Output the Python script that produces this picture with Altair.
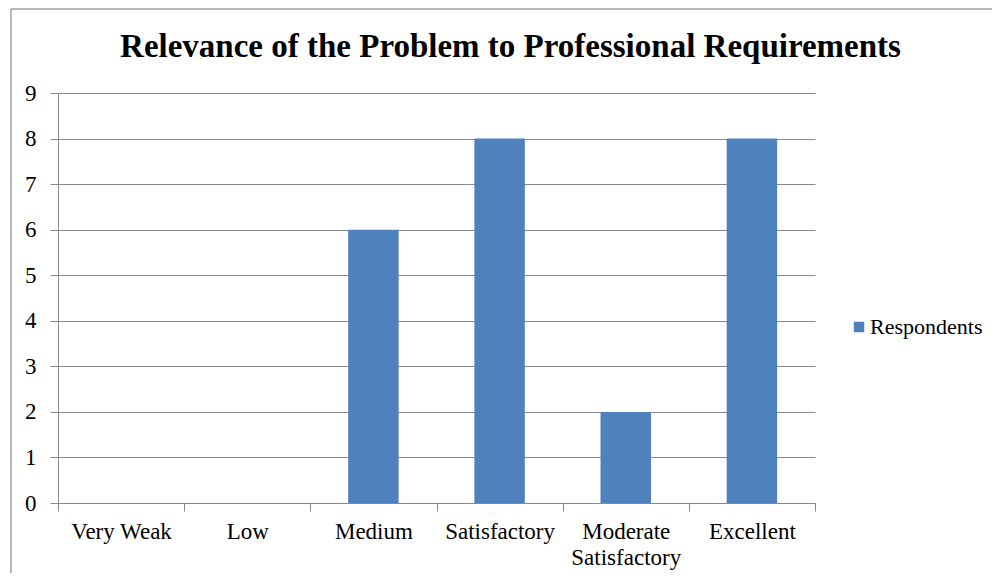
import altair as alt
import pandas as pd

categories = ["Very Weak", "Low", "Medium", "Satisfactory", "Moderate Satisfactory", "Excellent"]
respondents = [0, 0, 6, 8, 2, 8]
series_name = "Respondents"
y_ticks = [0, 1, 2, 3, 4, 5, 6, 7, 8, 9]

df = pd.DataFrame({"category": categories, "value": respondents, "series": [series_name] * len(categories)})

FONT = "'Liberation Serif', 'Times New Roman', Times, serif"
GRAY = "#898989"
BLUE = "#4F81BD"

bars = alt.Chart(df).mark_bar(width=alt.RelativeBandSize(0.4), color=BLUE).encode(
    x=alt.X(
        "category:N",
        sort=categories,
        scale=alt.Scale(paddingInner=0, paddingOuter=0),
        axis=alt.Axis(
            title=None,
            labelAngle=0,
            tickBand="extent",
            tickSize=8,
            tickColor=GRAY,
            domainColor=GRAY,
            labelPadding=9,
            labelFont=FONT,
            labelFontSize=23,
            labelColor="black",
            labelLineHeight=26,
            labelExpr="datum.label == 'Moderate Satisfactory' ? ['Moderate', 'Satisfactory'] : datum.label",
            grid=False,
        ),
    ),
    y=alt.Y(
        "value:Q",
        scale=alt.Scale(domain=[0, 9], nice=False),
        axis=alt.Axis(
            title=None,
            values=y_ticks,
            tickSize=8,
            tickColor=GRAY,
            domainColor=GRAY,
            gridColor=GRAY,
            gridWidth=1.2,
            labelPadding=14,
            labelFont=FONT,
            labelFontSize=23,
            labelColor="black",
        ),
    ),
    color=alt.Color(
        "series:N",
        scale=alt.Scale(domain=[series_name], range=[BLUE]),
        legend=alt.Legend(
            title=None,
            orient="none",
            legendX=790,
            legendY=223,
            symbolType="square",
            symbolSize=110,
            symbolStrokeWidth=0,
            labelFont=FONT,
            labelFontSize=22,
            labelColor="black",
            labelOffset=0,
        ),
    ),
)

frame_data = alt.Data(values=[{"k": 1}])
top_border = alt.Chart(frame_data).mark_rule(color="#a0a0a0", strokeWidth=1.5).encode(
    x=alt.value(-47), x2=alt.value(940), y=alt.value(-84)
)
left_border = alt.Chart(frame_data).mark_rule(color="#a0a0a0", strokeWidth=1.5).encode(
    x=alt.value(-47), y=alt.value(-84), y2=alt.value(480)
)

chart = (
    alt.layer(bars, top_border, left_border)
    .properties(
        width=757,
        height=410,
        title=alt.TitleParams(
            "Relevance of the Problem to Professional Requirements",
            font=FONT,
            fontSize=33,
            fontWeight="bold",
            color="black",
            anchor="middle",
            dx=74,
            offset=-56,
        ),
        autosize=alt.AutoSizeParams(type="none"),
        padding={"left": 50, "top": 85, "right": 177, "bottom": 70},
    )
    .configure_view(stroke=None)
    .configure_axis(labelFont=FONT, labelFontSize=23, labelColor="black")
    .configure_text(font=FONT)
)

chart.save("out.html", embed_options={"renderer": "svg", "actions": False})
